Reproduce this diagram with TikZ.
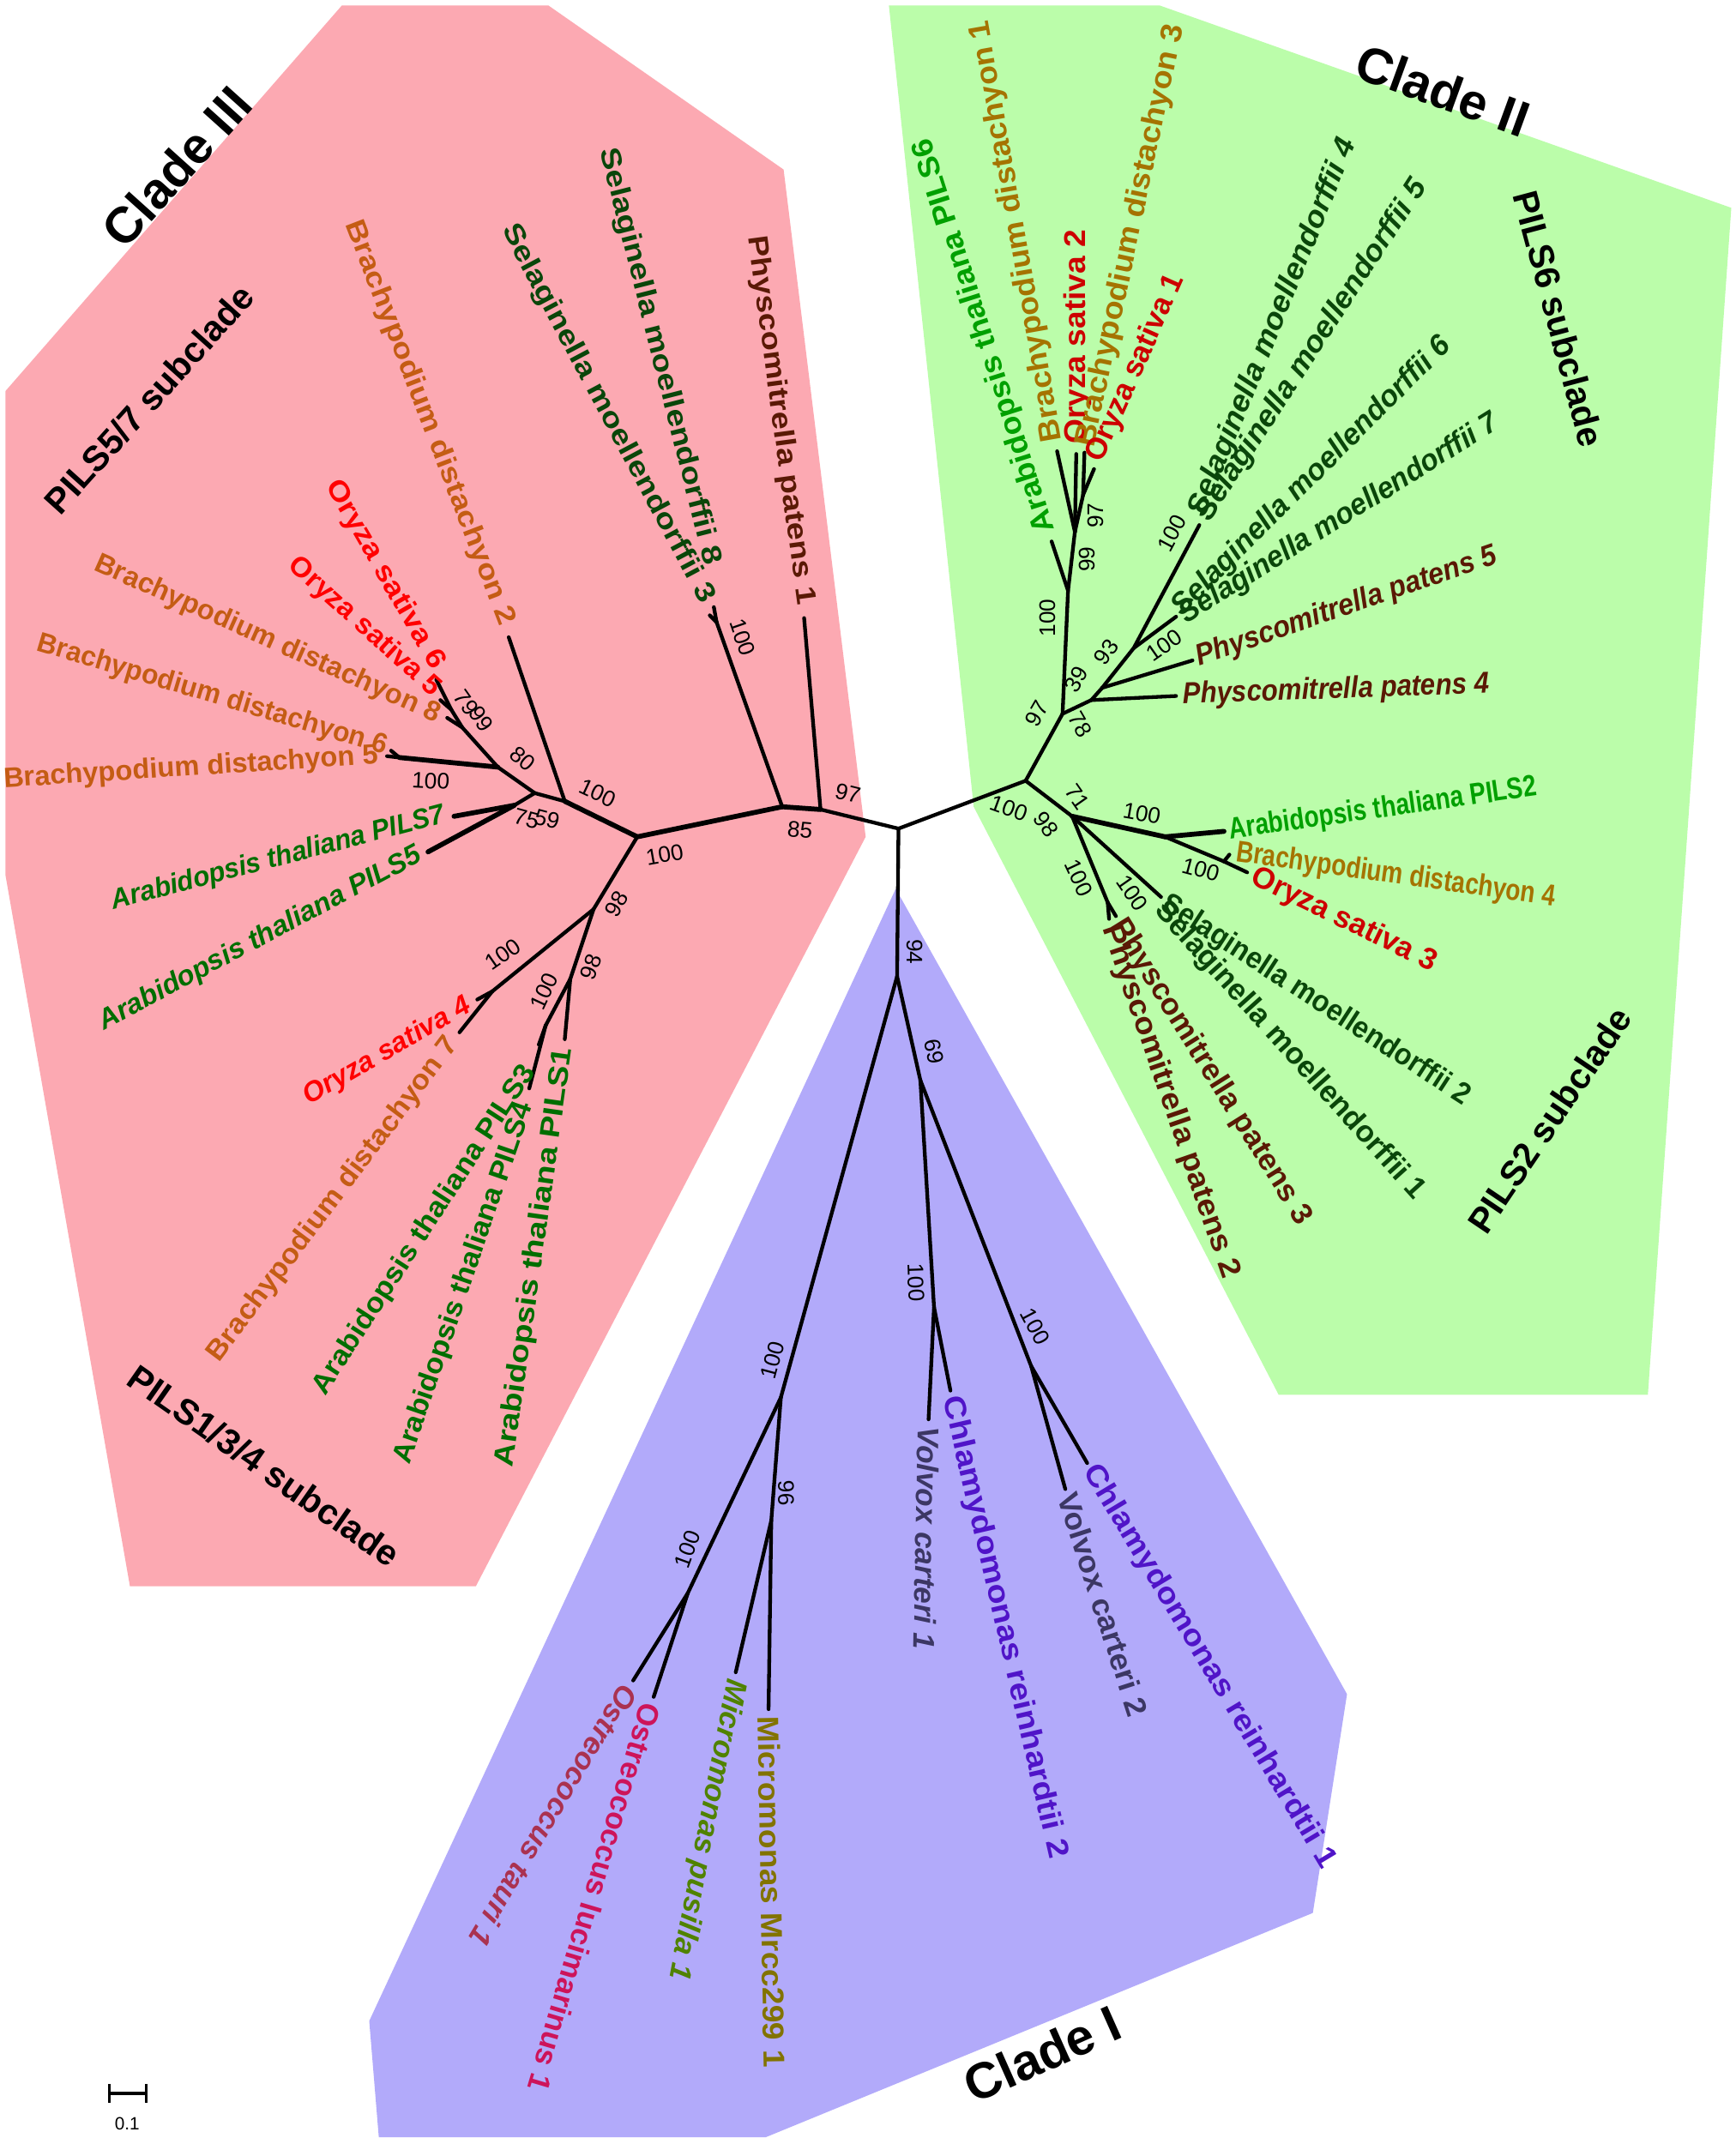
\documentclass[tikz,border=0pt]{standalone}
\usepackage{fontspec}
\setmainfont{Liberation Sans}
\definecolor{pinkbg}{RGB}{252,169,178}
\definecolor{greenbg}{RGB}{187,253,170}
\definecolor{bluebg}{RGB}{178,170,250}
\definecolor{bdA}{RGB}{196,92,20}
\definecolor{osA}{RGB}{255,0,0}
\definecolor{atA}{RGB}{0,110,0}
\definecolor{smc}{RGB}{10,70,10}
\definecolor{ppc}{RGB}{90,25,5}
\definecolor{bdB}{RGB}{165,115,0}
\definecolor{osB}{RGB}{205,0,0}
\definecolor{atB}{RGB}{0,160,0}
\definecolor{vcc}{RGB}{60,55,100}
\definecolor{crc}{RGB}{80,20,200}
\definecolor{otc}{RGB}{170,50,80}
\definecolor{olc}{RGB}{205,20,90}
\definecolor{mpc}{RGB}{80,130,0}
\definecolor{mmc}{RGB}{130,115,0}
\begin{document}
\begin{tikzpicture}[x=1pt,y=-1pt,
  br/.style={line width=2.7pt,line cap=round,line join=round},
  thk/.style={line width=3.6pt,line cap=round},
  spA/.style={font=\fontsize{20.5}{20.5}\selectfont\bfseries,inner sep=1pt},
  spAi/.style={font=\fontsize{20.5}{20.5}\selectfont\bfseries\itshape,inner sep=1pt},
  sp/.style={font=\fontsize{22}{22}\selectfont\bfseries,inner sep=1pt},
  spi/.style={font=\fontsize{22}{22}\selectfont\bfseries\itshape,inner sep=1pt},
  bs/.style={font=\fontsize{16.5}{16.5}\selectfont,inner sep=0pt},
  cl/.style={font=\fontsize{37}{37}\selectfont\bfseries,inner sep=0pt},
  sub/.style={font=\fontsize{26}{26}\selectfont\bfseries,inner sep=0pt}]
\useasboundingbox (0,0) rectangle (1269,1568);
\fill[white] (0,0) rectangle (1269,1568);
% clade backgrounds
\fill[pinkbg] (4,286) -- (250,4) -- (401,4) -- (573,124) -- (633,612) -- (348,1160) -- (95,1160) -- (4,640) -- cycle;
\fill[greenbg] (650,4) -- (848,4) -- (1266,152) -- (1205,1020) -- (935,1020) -- (712,590) -- cycle;
\fill[bluebg] (655,650) -- (985,1239) -- (960,1399) -- (560,1563) -- (277,1563) -- (270,1478) -- cycle;

% ---------- tree coordinates ----------
\coordinate (C) at (657,606);
% clade III
\coordinate (A1) at (600,592);
\coordinate (Pp1t) at (588,452);
\coordinate (A2) at (572,590);
\coordinate (Smn) at (524,455);
\coordinate (Sm8t) at (522,444);
\coordinate (Sm3t) at (519,450);
\coordinate (A3) at (466,612);
\coordinate (A4) at (413,586);
\coordinate (Bd2t) at (372,466);
\coordinate (A5) at (391,580);
\coordinate (A6) at (364,561);
\coordinate (Bd56) at (292,554);
\coordinate (Bd5t) at (283,553);
\coordinate (Bd6t) at (286,549);
\coordinate (n79) at (338,532);
\coordinate (Bd8t) at (327,525);
\coordinate (n99) at (330,519);
\coordinate (Os5t) at (322,512);
\coordinate (Os6t) at (319,497);
\coordinate (n75) at (376,589);
\coordinate (PILS7t) at (332,597);
\coordinate (PILS5t) at (313,623);
\coordinate (B1) at (434,665);
\coordinate (B2) at (360,725);
\coordinate (Os4t) at (349,731);
\coordinate (Bd7t) at (336,755);
\coordinate (B3) at (417,716);
\coordinate (B4) at (399,750);
\coordinate (PILS3t) at (394,764);
\coordinate (PILS4t) at (387,796);
\coordinate (PILS1t) at (413,760);
% clade II
\coordinate (N2) at (750,571);
\coordinate (N3) at (777,522);
\coordinate (N4) at (781,432);
\coordinate (PILS6t) at (769,396);
\coordinate (N5) at (786,389);
\coordinate (Bd1t) at (773,330);
\coordinate (Os2t) at (787,332);
\coordinate (N6) at (792,362);
\coordinate (Bd3t) at (793,331);
\coordinate (Os1t) at (800,343);
\coordinate (N7a) at (798,512);
\coordinate (Pp4t) at (860,509);
\coordinate (N7b) at (806,503);
\coordinate (Pp5t) at (872,483);
\coordinate (N7c) at (829,474);
\coordinate (Sm67t) at (860,451);
\coordinate (Sm45t) at (877,384);
\coordinate (N8) at (784,597);
\coordinate (N9) at (852,612);
\coordinate (PILS2t) at (895,608);
\coordinate (N10) at (895,630);
\coordinate (Bd4t) at (899,625);
\coordinate (Os3t) at (912,638);
\coordinate (Sm12t) at (849,656);
\coordinate (Pp23n) at (810,660);
\coordinate (Pp2t) at (811,672);
\coordinate (Pp3t) at (816,670);
% clade I
\coordinate (N11) at (656,714);
\coordinate (N12) at (673,790);
\coordinate (N13) at (683,956);
\coordinate (Vc1t) at (679,1038);
\coordinate (Cr2t) at (695,1017);
\coordinate (N14) at (754,999);
\coordinate (Vc2t) at (779,1089);
\coordinate (Cr1t) at (795,1070);
\coordinate (N15) at (571,1022);
\coordinate (N16) at (503,1165);
\coordinate (Ot1t) at (463,1229);
\coordinate (Ol1t) at (478,1241);
\coordinate (N17) at (564,1112);
\coordinate (Mp1t) at (538,1223);
\coordinate (Mm1t) at (562,1250);

% ---------- branches ----------
\draw[br] (C) -- (A1);
\draw[br] (A1) -- (Pp1t);
\draw[thk] (A1) -- (A2);
\draw[br] (A2) -- (Smn);
\draw[br] (Smn) -- (Sm8t);
\draw[br] (Smn) -- (Sm3t);
\draw[thk] (A2) -- (A3);
\draw[thk] (A3) -- (A4);
\draw[br] (A4) -- (Bd2t);
\draw[br] (A4) -- (A5);
\draw[br] (A5) -- (A6);
\draw[thk] (A6) -- (Bd56);
\draw[br] (Bd56) -- (Bd5t);
\draw[br] (Bd56) -- (Bd6t);
\draw[br] (A6) -- (n79);
\draw[br] (n79) -- (Bd8t);
\draw[br] (n79) -- (n99);
\draw[br] (n99) -- (Os5t);
\draw[br] (n99) -- (Os6t);
\draw[br] (A5) -- (n75);
\draw[thk] (n75) -- (PILS7t);
\draw[thk] (n75) -- (PILS5t);
\draw[br] (A3) -- (B1);
\draw[br] (B1) -- (B2);
\draw[br] (B2) -- (Os4t);
\draw[br] (B2) -- (Bd7t);
\draw[br] (B1) -- (B3);
\draw[br] (B3) -- (B4);
\draw[br] (B4) -- (PILS3t);
\draw[br] (B4) -- (PILS4t);
\draw[br] (B3) -- (PILS1t);
\draw[br] (C) -- (N2);
\draw[br] (N2) -- (N3);
\draw[br] (N3) -- (N4);
\draw[br] (N4) -- (PILS6t);
\draw[br] (N4) -- (N5);
\draw[br] (N5) -- (Bd1t);
\draw[br] (N5) -- (Os2t);
\draw[br] (N5) -- (N6);
\draw[br] (N6) -- (Bd3t);
\draw[br] (N6) -- (Os1t);
\draw[br] (N3) -- (N7a);
\draw[br] (N7a) -- (Pp4t);
\draw[br] (N7a) -- (N7b);
\draw[br] (N7b) -- (Pp5t);
\draw[br] (N7b) -- (N7c);
\draw[br] (N7c) -- (Sm67t);
\draw[br] (N7c) -- (Sm45t);
\draw[br] (N2) -- (N8);
\draw[thk] (N8) -- (N9);
\draw[thk] (N9) -- (PILS2t);
\draw[br] (N9) -- (N10);
\draw[br] (N10) -- (Bd4t);
\draw[br] (N10) -- (Os3t);
\draw[br] (N8) -- (Sm12t);
\draw[br] (N8) -- (Pp23n);
\draw[br] (Pp23n) -- (Pp2t);
\draw[br] (Pp23n) -- (Pp3t);
\draw[br] (C) -- (N11);
\draw[br] (N11) -- (N12);
\draw[br] (N12) -- (N13);
\draw[br] (N13) -- (Vc1t);
\draw[br] (N13) -- (Cr2t);
\draw[br] (N12) -- (N14);
\draw[br] (N14) -- (Vc2t);
\draw[br] (N14) -- (Cr1t);
\draw[br] (N11) -- (N15);
\draw[br] (N15) -- (N16);
\draw[br] (N16) -- (Ot1t);
\draw[br] (N16) -- (Ol1t);
\draw[br] (N15) -- (N17);
\draw[br] (N17) -- (Mp1t);
\draw[br] (N17) -- (Mm1t);

% ---------- species labels: clade III ----------
\node[spA,text=ppc,anchor=east,rotate=-82.3,xscale=1.16] (lPp1) at (589,444) {Physcomitrella patens 1};
\node[spA,text=smc,anchor=east,rotate=-75.8,xscale=1.18] (lSm8) at (521,414) {Selaginella moellendorffii 8};
\node[spA,text=smc,anchor=east,rotate=-62,xscale=1.17] (lSm3) at (518,441) {Selaginella moellendorffii 3};
\node[spA,text=bdA,anchor=east,rotate=-69,xscale=1.15] (lBd2) at (371,458) {Brachypodium distachyon 2};
\node[spA,text=osA,anchor=east,rotate=-60,xscale=1.13] (lOs6) at (321,489) {Oryza sativa 6};
\node[spA,text=osA,anchor=east,rotate=-42,xscale=1.03] (lOs5) at (320,507) {Oryza sativa 5};
\node[spA,text=bdA,anchor=east,rotate=-24] (lBd8) at (322,524) {Brachypodium distachyon 8};
\node[spA,text=bdA,anchor=east,rotate=-16.6,xscale=0.97] (lBd6) at (284,547) {Brachypodium distachyon 6};
\node[spA,text=bdA,anchor=east,rotate=3.7] (lBd5) at (278,553) {Brachypodium distachyon 5};
\node[spAi,text=atA,anchor=east,rotate=14.7,xscale=0.95] (lP7) at (326,596) {Arabidopsis thaliana PILS7};
\node[spAi,text=atA,anchor=east,rotate=28] (lP5) at (308,624) {Arabidopsis thaliana PILS5};
\node[spAi,text=osA,anchor=east,rotate=30] (lOs4) at (344,734) {Oryza sativa 4};
\node[spA,text=bdA,anchor=east,rotate=53,xscale=1.06] (lBd7) at (332,760) {Brachypodium distachyon 7};
\node[spA,text=atA,anchor=east,rotate=57,xscale=1.07] (lP3) at (388,780) {Arabidopsis thaliana PILS3};
\node[spA,text=atA,anchor=east,rotate=71,xscale=1.05] (lP4) at (385,806) {Arabidopsis thaliana PILS4};
\node[spA,text=atA,anchor=east,rotate=82,xscale=1.17] (lP1) at (413,765) {Arabidopsis thaliana PILS1};

% ---------- species labels: clade II ----------
\node[sp,text=atB,anchor=west,rotate=107.6,xscale=1.06] (lP6) at (766,390) {Arabidopsis thaliana PILS6};
\node[sp,text=bdB,anchor=west,rotate=100,xscale=1.06] (lBd1) at (771,324) {Brachypodium distachyon 1};
\node[sp,text=osB,anchor=west,rotate=90,xscale=1.06] (lOs2) at (788,326) {Oryza sativa 2};
\node[sp,text=bdB,anchor=west,rotate=78,xscale=1.07] (lBd3) at (794,328) {Brachypodium distachyon 3};
\node[sp,text=osB,anchor=west,rotate=66] (lOs1) at (800,338) {Oryza sativa 1};
\node[spi,text=smc,anchor=west,rotate=68,xscale=1.04] (lSm4) at (875,378) {Selaginella moellendorffii 4};
\node[spi,text=smc,anchor=west,rotate=57,xscale=1.03] (lSm5) at (879,380) {Selaginella moellendorffii 5};
\node[spi,text=smc,anchor=west,rotate=45,xscale=0.98] (lSm6) at (860,448) {Selaginella moellendorffii 6};
\node[spi,text=smc,anchor=west,rotate=32,xscale=0.95] (lSm7) at (864,452) {Selaginella moellendorffii 7};
\node[spi,text=ppc,anchor=west,rotate=19,xscale=0.92] (lPp5) at (874,482) {Physcomitrella patens 5};
\node[spi,text=ppc,anchor=west,rotate=2,xscale=0.89] (lPp4) at (864,509) {Physcomitrella patens 4};
\node[sp,text=atB,anchor=west,rotate=8,xscale=0.8] (lP2) at (898,608) {Arabidopsis thaliana PILS2};
\node[sp,text=bdB,anchor=west,rotate=-8,xscale=0.8] (lBd4) at (903,624) {Brachypodium distachyon 4};
\node[sp,text=osB,anchor=west,rotate=-26] (lOs3) at (915,640) {Oryza sativa 3};
\node[sp,text=smc,anchor=west,rotate=-33,xscale=0.93] (lSm2) at (850,659) {Selaginella moellendorffii 2};
\node[sp,text=smc,anchor=west,rotate=-48] (lSm1) at (847,662) {Selaginella moellendorffii 1};
\node[sp,text=ppc,anchor=west,rotate=-58,xscale=1.03] (lPp3) at (816,673) {Physcomitrella patens 3};
\node[sp,text=ppc,anchor=west,rotate=-71,xscale=1.08] (lPp2) at (811,676) {Physcomitrella patens 2};

% ---------- species labels: clade I ----------
\node[spi,text=vcc,anchor=west,rotate=-91] (lVc1) at (679,1042) {Volvox carteri 1};
\node[sp,text=crc,anchor=west,rotate=-77,xscale=1.12] (lCr2) at (695,1020) {Chlamydomonas reinhardtii 2};
\node[sp,text=vcc,anchor=west,rotate=-72,xscale=1.05] (lVc2) at (780,1091) {Volvox carteri 2};
\node[sp,text=crc,anchor=west,rotate=-59,xscale=1.1] (lCr1) at (796,1072) {Chlamydomonas reinhardtii 1};
\node[spi,text=otc,anchor=west,rotate=-121] (lOt1) at (462,1233) {Ostreococcus tauri 1};
\node[sp,text=olc,anchor=west,rotate=-106.5] (lOl1) at (477,1245) {Ostreococcus lucimarinus 1};
\node[spi,text=mpc,anchor=west,rotate=-101] (lMp1) at (538,1227) {Micromonas pusilla 1};
\node[sp,text=mmc,anchor=west,rotate=-89,xscale=1.06] (lMm1) at (562,1254) {Micromonas Mrcc299 1};

% ---------- clade labels ----------
\node[cl,rotate=48] (cIII) at (129,122) {Clade III};
\node[sub,rotate=48] (s57) at (109,292) {PILS5/7 subclade};
\node[sub,rotate=-35] (s134) at (193,1072) {PILS1/3/4 subclade};
\node[cl,rotate=-20] (cII) at (1055,66) {Clade II};
\node[sub,rotate=-75] (s6) at (1140,233) {PILS6 subclade};
\node[sub,rotate=56] (s2) at (1133,819) {PILS2 subclade};
\node[cl,rotate=24] (cI) at (762,1502) {Clade I};

% ---------- bootstrap values ----------
\node[bs,rotate=-14] (b1) at (620,580) {97};
\node[bs,rotate=-5] (b2) at (585,607) {85};
\node[bs,rotate=-71] (b3) at (543,466) {100};
\node[bs,rotate=10] (b4) at (486,625) {100};
\node[bs,rotate=-25] (b5) at (437,580) {100};
\node[bs,rotate=-15] (b6) at (385,599) {75};
\node[bs,rotate=-15] (b7) at (400,599) {59};
\node[bs,rotate=-40] (b8) at (382,555) {80};
\node[bs,rotate=-55] (b9) at (341,514) {79};
\node[bs,rotate=-55] (b10) at (352,526) {99};
\node[bs,rotate=-3] (b11) at (315,571) {100};
\node[bs,rotate=60] (b12) at (451,661) {98};
\node[bs,rotate=35] (b13) at (368,698) {100};
\node[bs,rotate=70] (b14) at (432,707) {98};
\node[bs,rotate=65] (b15) at (398,725) {100};
\node[bs,rotate=-20] (b16) at (738,591) {100};
\node[bs,rotate=60] (b17) at (758,522) {97};
\node[bs,rotate=-60] (b18) at (790,530) {78};
\node[bs,rotate=60] (b19) at (787,497) {39};
\node[bs,rotate=55] (b20) at (809,477) {93};
\node[bs,rotate=35] (b21) at (851,472) {100};
\node[bs,rotate=62] (b22) at (857,390) {100};
\node[bs,rotate=90] (b23) at (766,452) {100};
\node[bs,rotate=90] (b24) at (795,409) {99};
\node[bs,rotate=90] (b25) at (801,377) {97};
\node[bs,rotate=-55] (b26) at (788,583) {71};
\node[bs,rotate=-55] (b27) at (765,603) {98};
\node[bs,rotate=-10] (b28) at (835,595) {100};
\node[bs,rotate=-15] (b29) at (878,636) {100};
\node[bs,rotate=-55] (b30) at (828,653) {100};
\node[bs,rotate=-65] (b31) at (789,642) {100};
\node[bs,rotate=-90] (b32) at (669,696) {94};
\node[bs,rotate=-80] (b33) at (683,769) {69};
\node[bs,rotate=-88] (b34) at (670,938) {100};
\node[bs,rotate=-62] (b35) at (757,970) {100};
\node[bs,rotate=75] (b36) at (565,995) {100};
\node[bs,rotate=-88] (b37) at (575,1092) {96};
\node[bs,rotate=70] (b38) at (503,1133) {100};

% ---------- scale bar ----------
\coordinate (sbL) at (80,1531);
\coordinate (sbR) at (107,1531);
\coordinate (sbLt) at (80,1524);
\coordinate (sbLb) at (80,1538);
\coordinate (sbRt) at (107,1524);
\coordinate (sbRb) at (107,1538);
\draw[line width=2.6pt] (sbL) -- (sbR);
\draw[line width=2.2pt] (sbLt) -- (sbLb);
\draw[line width=2.2pt] (sbRt) -- (sbRb);
\node[font=\fontsize{13}{13}\selectfont,inner sep=0pt] (sbl) at (93,1553) {0.1};
\end{tikzpicture}
\end{document}
